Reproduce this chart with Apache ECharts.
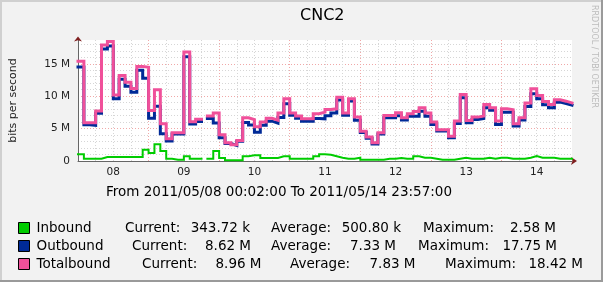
<!DOCTYPE html>
<html>
<head>
<meta charset="utf-8">
<script src="https://cdn.jsdelivr.net/npm/echarts@6/dist/echarts.min.js"></script>
<style>
html,body{margin:0;padding:0;background:#f2f2f2;}
#chart{width:603px;height:282px;}
</style>
</head>
<body>
<div id="chart"></div>
<script>
// ---- data (values in M bits/s, one value per 2-hour bin, starting 2011/05/08 00:00) ----
const binHours = 2;
const dayLabels = ['08','09','10','11','12','13','14'];
const seriesNames = ['Inbound','Outbound','Totalbound'];
const inbound = [
  1.03,0.36,0.36,0.36,0.62,0.62,0.62,0.62,0.62,0.62,0.62,1.74,
  1.23,2.58,1.54,0.36,0.20,0.20,0.72,0.36,0.36,null,0.36,1.54,
  0.46,0.10,0.10,0.10,0.72,0.87,0.87,0.46,0.46,0.46,0.72,0.72,
  0.36,0.36,0.36,0.36,0.72,1.03,0.95,0.72,0.51,0.36,0.36,0.51,
  0.20,0.20,0.20,0.20,0.36,0.36,0.46,0.36,0.36,0.72,0.51,0.51,
  0.36,0.20,0.20,0.20,0.36,0.51,0.36,0.36,0.36,0.51,0.36,0.51,
  0.51,0.36,0.36,0.36,0.51,0.77,0.51,0.51,0.51,0.36,0.36,0.344
];
const outbound = [
  14.50,5.60,5.50,7.35,17.30,17.75,9.60,12.60,11.55,10.60,14.00,12.75,
  6.60,8.45,4.20,3.10,4.15,4.15,16.10,5.70,6.10,null,6.57,5.86,
  3.60,2.70,2.40,3.05,5.95,5.55,4.45,5.50,6.15,5.85,6.70,8.85,
  7.05,6.60,6.15,6.15,6.55,6.51,7.00,7.40,9.40,7.05,9.25,6.30,
  4.40,3.50,2.62,4.16,6.67,6.67,6.98,6.31,6.92,6.92,7.69,6.89,
  5.64,4.62,4.62,3.60,5.80,9.75,5.90,6.41,6.57,8.21,7.84,5.65,
  7.54,7.54,5.39,6.31,8.42,10.36,9.59,8.67,8.21,9.08,8.87,8.62
];
const totalbound = [
  15.40,5.90,5.90,7.70,17.90,18.42,10.20,13.20,12.15,11.20,14.60,14.45,
  7.80,11.00,5.75,3.45,4.35,4.35,16.80,6.05,6.45,null,6.93,7.40,
  4.05,2.82,2.50,3.18,6.67,6.40,5.30,6.00,6.60,6.30,7.40,9.60,
  7.40,6.93,6.50,6.50,7.30,7.54,7.95,8.05,9.85,7.40,9.60,6.77,
  4.60,3.70,2.82,4.36,7.03,7.03,7.44,6.67,7.28,7.64,8.20,7.40,
  6.00,4.82,4.82,3.80,6.16,10.26,6.26,6.77,6.93,8.72,8.20,6.16,
  8.05,7.90,5.75,6.67,8.93,11.13,10.10,9.18,8.72,9.44,9.23,8.96
];
const currentText = ['343.72 k','8.62 M','8.96 M'];
const averageText = ['500.80 k','7.33 M','7.83 M'];
const maximumText = ['2.58 M','17.75 M','18.42 M'];
const periodText = 'From 2011/05/08 00:02:00 To 2011/05/14 23:57:00';
const titleText = 'CNC2';
const yAxisTitle = 'bits per second';
const watermark = 'RRDTOOL / TOBI OETIKER';

// ---- build step lines from bins ----
function steps(vals){
  const out = [];
  vals.forEach((v,k)=>{
    if (v == null) { out.push([k*binHours,'-']); }
    else { out.push([k*binHours, v], [(k+1)*binHours, v]); }
  });
  return out;
}

const FONT = 'DejaVu Sans';
const colors = ['#00CC00','#002A97','#F0509A'];
const widths = [2, 3, 3];
const RED = '#f0a8a8', GRAY = '#d6d6d6', ARROW = '#7f1f1f', AXIS = '#666666';
const yMax = 18.67;
const yLineColors = Array.from({length: 19}, (_, i) => i % 5 === 0 ? RED : GRAY);

const chart = echarts.init(document.getElementById('chart'), null, {renderer:'canvas'});

// legend-row layout
const rowY = [228, 246, 264];
const curX = [125, 132, 142], curEnd = [250, 251, 261.5];
const avgX = [271, 271, 290], avgEnd = [401, 396, 415.5];
const maxX = [423, 418, 445], maxEnd = [556, 557, 583];
const txt = (text, x, y, align, size, fill) => ({
  type:'text', x, y, silent:true,
  style:{text, fill: fill || '#000', font: (size||13.5)+'px "'+FONT+'"', textAlign: align||'left', textVerticalAlign:'middle'}
});
const graphics = [];
for (let i=0;i<3;i++){
  graphics.push(txt('Current:', curX[i], rowY[i]));
  graphics.push(txt(currentText[i], curEnd[i], rowY[i], 'right'));
  graphics.push(txt('Average:', avgX[i], rowY[i]));
  graphics.push(txt(averageText[i], avgEnd[i], rowY[i], 'right'));
  graphics.push(txt('Maximum:', maxX[i], rowY[i]));
  graphics.push(txt(maximumText[i], maxEnd[i], rowY[i], 'right'));
}
graphics.push(txt(periodText, 106, 192));
graphics.push({type:'text', x:594, y:5, rotation:-Math.PI/2, silent:true,
  style:{text: watermark, fill:'#bcbcbc', font:'8px "'+FONT+'"', textAlign:'left', textVerticalAlign:'middle'}});
// frame
graphics.push({type:'rect', shape:{x:0,y:0,width:603,height:2}, style:{fill:'#d0d0d0'}, silent:true});
graphics.push({type:'rect', shape:{x:0,y:0,width:2,height:282}, style:{fill:'#d0d0d0'}, silent:true});
graphics.push({type:'rect', shape:{x:601,y:0,width:2,height:282}, style:{fill:'#9a9a9a'}, silent:true});
graphics.push({type:'rect', shape:{x:0,y:280,width:603,height:2}, style:{fill:'#9a9a9a'}, silent:true});

const option = {
  animation:false,
  backgroundColor:'#f2f2f2',
  title:{text:titleText, left:300, top:8, padding:0,
    textStyle:{fontFamily:FONT, fontSize:16, fontWeight:'normal', color:'#000'}},
  legend:{orient:'vertical', left:18, top:221, padding:0, itemWidth:11, itemHeight:11, itemGap:4,
    icon:'rect', selectedMode:false, data: seriesNames,
    itemStyle:{borderColor:'#000', borderWidth:1},
    textStyle:{fontFamily:FONT, fontSize:13.5, lineHeight:14, color:'#000', padding:[0,0,0,2]}},
  grid:{left:72, right:31, top:40, bottom:121, show:true, backgroundColor:'#ffffff', borderWidth:0, containLabel:false},
  xAxis:[{
    type:'value', min:0, max:168, interval:6,
    axisLine:{show:true, onZero:false, lineStyle:{color:AXIS, width:1}},
    axisTick:{show:false},
    axisLabel:{fontFamily:FONT, fontSize:10.5, color:'#222', margin:6,
      formatter:(v)=> (v % 24 === 12) ? dayLabels[Math.floor(v/24)] : ''},
    splitLine:{show:true, showMaxLine:false, lineStyle:{color:[RED,GRAY,GRAY,GRAY], type:[1,2], width:1}}
  },{
    type:'value', min:0, max:168, position:'bottom',
    axisLine:{show:true, onZero:false, symbol:['none','arrow'], symbolSize:[6,6], symbolOffset:[0,5],
      lineStyle:{color:ARROW, width:0}},
    axisTick:{show:false}, axisLabel:{show:false}, splitLine:{show:false}
  }],
  yAxis:[{
    type:'value', min:0, max:yMax, interval:1,
    name:yAxisTitle, nameLocation:'middle', nameGap:59, nameRotate:90,
    nameTextStyle:{fontFamily:FONT, fontSize:11, color:'#222'},
    axisLine:{show:true, onZero:false, lineStyle:{color:AXIS, width:1}},
    axisTick:{show:false},
    axisLabel:{fontFamily:FONT, fontSize:10.5, color:'#222', margin:8,
      formatter:(v)=> (Math.abs(v % 5) < 1e-9) ? (v === 0 ? '0' : v + ' M') : ''},
    splitLine:{show:true, showMaxLine:false, lineStyle:{color:yLineColors, type:[1,2], width:1}}
  },{
    type:'value', min:0, max:yMax, position:'left',
    axisLine:{show:true, onZero:false, symbol:['none','arrow'], symbolSize:[6,5], symbolOffset:[0,3.5],
      lineStyle:{color:ARROW, width:0}},
    axisTick:{show:false}, axisLabel:{show:false}, splitLine:{show:false}
  }],
  series: [inbound, outbound, totalbound].map((vals, i) => ({
    name: seriesNames[i], type:'line', data: steps(vals), xAxisIndex:0, yAxisIndex:0,
    showSymbol:false, symbol:'none', connectNulls:false, color: colors[i],
    lineStyle:{color:colors[i], width:widths[i], join:'miter', cap:'square'}
  })),
  graphic: graphics
};
chart.setOption(option);
</script>
</body>
</html>
